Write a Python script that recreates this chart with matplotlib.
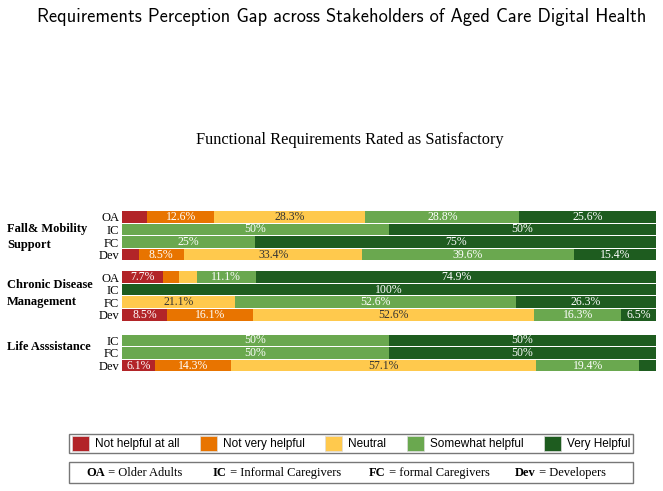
import numpy as np
import matplotlib.pyplot as plt
from matplotlib.patches import Patch, Rectangle

# rows, top to bottom
groups = ["Fall& Mobility\nSupport", "Chronic Disease\nManagement", "Life Asssistance"]
rows = [["OA", "IC", "FC", "Dev"], ["OA", "IC", "FC", "Dev"], ["IC", "FC", "Dev"]]

not_helpful = [4.7, 0, 0, 3.1, 7.7, 0, 0, 8.5, 0, 0, 6.1]
not_very = [12.6, 0, 0, 8.5, 3.0, 0, 0, 16.1, 0, 0, 14.3]
neutral = [28.3, 0, 0, 33.4, 3.3, 0, 21.1, 52.6, 0, 0, 57.1]
somewhat = [28.8, 50, 25, 39.6, 11.1, 0, 52.6, 16.3, 50, 50, 19.4]
very = [25.6, 50, 75, 15.4, 74.9, 100, 26.3, 6.5, 50, 50, 3.1]

cats = ["Not helpful at all", "Not very helpful", "Neutral", "Somewhat helpful", "Very Helpful"]
colors = ["#B22428", "#E87400", "#FFC94D", "#6AA84F", "#1E5C1F"]

abbr = ["OA", "IC", "FC", "Dev"]
abbr_text = [" = Older Adults", " = Informal Caregivers", " = formal Caregivers", " = Developers"]

# y positions with a gap between groups
gaps = [0, 0.8, 1.05]
ypos, labels, gstart = [], [], []
y = 0.0
for g, rr in enumerate(rows):
    y += gaps[g]
    gstart.append(y)
    for r in rr:
        ypos.append(y)
        labels.append(r)
        y += 1
ypos = np.array(ypos)

fig = plt.figure(figsize=(6.63, 4.91), dpi=100)
ax = fig.add_axes([0.184, 0.2428, 0.8054, 0.3281])

data = np.array([not_helpful, not_very, neutral, somewhat, very])
left = np.zeros(len(ypos))
for k in range(5):
    ax.barh(ypos, data[k], left=left, height=0.93, color=colors[k], edgecolor="none")
    for i in range(len(ypos)):
        v = data[k][i]
        if v >= 5:
            tc = "#333333" if k == 2 else "white"
            ax.text(left[i] + v / 2, ypos[i], f"{v:g}%", ha="center", va="center",
                    fontsize=8.5, family="Liberation Serif", color=tc)
    left += data[k]

ax.set_xlim(0, 100)
ax.set_ylim(ypos[-1] + 0.5, -0.5)
ax.set_yticks(ypos)
ax.set_yticklabels(labels, family="Liberation Serif", fontsize=9)
ax.tick_params(axis="y", length=0, pad=2)
ax.set_xticks([])
for s in ax.spines.values():
    s.set_visible(False)

# group names
label_off = [1.6, 1.3, 0.5]
for g, name in enumerate(groups):
    ax.text(-0.215, gstart[g] + label_off[g], name, transform=ax.get_yaxis_transform(),
            ha="left", va="center", fontsize=9, fontweight="bold",
            family="Liberation Serif", linespacing=1.5)

fig.text(0.516, 0.965, "Requirements Perception Gap across Stakeholders of Aged Care Digital Health",
         ha="center", va="center", fontsize=13.3, family="cmss10")
fig.text(0.527, 0.715, "Functional Requirements Rated as Satisfactory",
         ha="center", va="center", fontsize=11.8, family="Liberation Serif")

# legend for the ratings
handles = [Patch(facecolor=c, edgecolor="#dddddd", linewidth=0.5) for c in colors]
leg = fig.legend(handles, cats, ncol=5, loc="center",
                 bbox_to_anchor=(69 / 663, 1 - 455 / 491, 564 / 663, 23 / 491), mode="expand",
                 fancybox=False, edgecolor="#777777", framealpha=1,
                 prop={"family": "Liberation Sans", "size": 8.5},
                 handlelength=1.45, handleheight=1.45, handletextpad=0.5,
                 borderpad=0.25, borderaxespad=0)
leg.get_frame().set_linewidth(1)

# legend for the abbreviations
fig.patches.append(Rectangle((69 / 663, 1 - 483 / 491), 564 / 663, 21 / 491,
                             transform=fig.transFigure, fill=False,
                             edgecolor="#777777", linewidth=1))
ab_x = [86, 213, 369, 515]
ab_y = 1 - 476 / 491
fig.canvas.draw()
for a, t, x in zip(abbr, abbr_text, ab_x):
    b = fig.text(x / 663, ab_y, a, ha="left", va="baseline", fontsize=9,
                 fontweight="bold", family="Liberation Serif")
    bb = b.get_window_extent(renderer=fig.canvas.get_renderer())
    fig.text(bb.x1 / fig.bbox.width, ab_y, t, ha="left", va="baseline", fontsize=9,
             family="Liberation Serif")

fig.savefig("out.png", dpi=100)
